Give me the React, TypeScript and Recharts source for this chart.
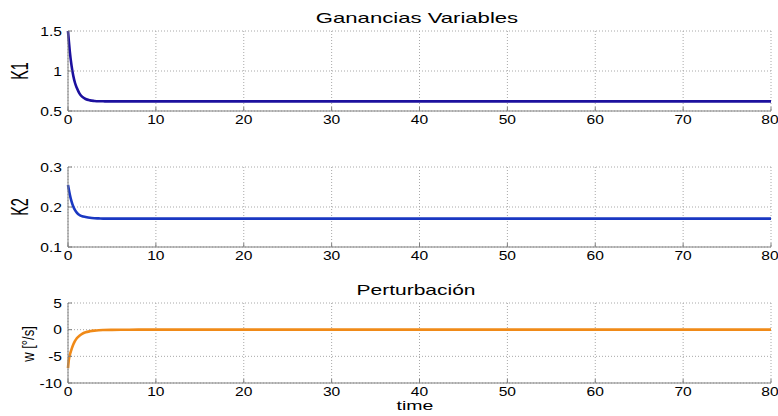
import React from "react";
import { LineChart, Line, XAxis, YAxis, CartesianGrid } from "recharts";

// simulation time (s) and the three signals
const time = [0, 0.1, 0.2, 0.4, 0.6, 0.8, 1, 1.3, 1.6, 2, 2.5, 3, 3.5, 4, 5, 6, 8, 10, 20, 40, 60, 80];
const k1 = [1.5, 1.37, 1.25, 1.07, 0.94, 0.85, 0.79, 0.72, 0.68, 0.65, 0.633, 0.626, 0.622, 0.621, 0.62, 0.62, 0.62, 0.62, 0.62, 0.62, 0.62, 0.62];
const k2 = [0.255, 0.243, 0.232, 0.214, 0.201, 0.192, 0.186, 0.18, 0.177, 0.175, 0.173, 0.172, 0.1715, 0.171, 0.171, 0.171, 0.171, 0.171, 0.171, 0.171, 0.171, 0.171];
const w = [-7.2, -5.6, -4.8, -3.7, -2.8, -2.1, -1.6, -1.15, -0.8, -0.5, -0.3, -0.18, -0.11, -0.07, -0.03, -0.01, 0, 0, 0, 0, 0, 0];

const xTicks = [0, 10, 20, 30, 40, 50, 60, 70, 80];
const k1Ticks = [0.5, 1, 1.5];
const k2Ticks = [0.1, 0.2, 0.3];
const wTicks = [-10, -5, 0, 5];

const rows = time.map((t, i) => ({ t, k1: k1[i], k2: k2[i], w: w[i] }));

const FONT = "'Liberation Sans', Arial, sans-serif";
const FRAME = "#808080";

// the original figure is stretched sideways, so the text is too
function SText({ x, y, sx = 1.3, size = 12, anchor = "middle", children }: any) {
  return (
    <text
      transform={`translate(${x},${y}) scale(${sx},1)`}
      textAnchor={anchor}
      fontSize={size}
      fontFamily={FONT}
      fill="#000"
    >
      {children}
    </text>
  );
}

const XTick = (p: any) => <SText x={p.x} y={p.y + 12.5}>{p.payload.value}</SText>;
const YTick = (p: any) => (
  <SText x={p.x - 6} y={p.y + 4.5} anchor="end">
    {p.payload.value}
  </SText>
);
const NoTick = () => <g />;

function Panel({ top, height, margin, dataKey, color, domain, ticks }: any) {
  return (
    <div style={{ position: "absolute", left: 0, top, width: 778, height }}>
      <LineChart width={778} height={height} data={rows} margin={margin}>
        <CartesianGrid stroke="#a8a8a8" strokeDasharray="1 2" />
        <XAxis
          dataKey="t"
          type="number"
          domain={[0, 80]}
          ticks={xTicks}
          height={18}
          stroke={FRAME}
          tickSize={-4}
          tickMargin={4}
          tick={XTick}
        />
        <XAxis
          xAxisId="top"
          dataKey="t"
          type="number"
          orientation="top"
          domain={[0, 80]}
          ticks={xTicks}
          height={0}
          stroke={FRAME}
          tickSize={-4}
          tick={NoTick}
        />
        <YAxis
          type="number"
          domain={domain}
          ticks={ticks}
          width={68}
          stroke={FRAME}
          tickSize={-4}
          tickMargin={4}
          tick={YTick}
        />
        <YAxis
          yAxisId="right"
          type="number"
          orientation="right"
          domain={domain}
          ticks={ticks}
          width={0}
          stroke={FRAME}
          tickSize={-4}
          tick={NoTick}
        />
        <Line
          type="monotone"
          dataKey={dataKey}
          stroke={color}
          strokeWidth={2.6}
          dot={false}
          isAnimationActive={false}
        />
      </LineChart>
    </div>
  );
}

export default function App() {
  return (
    <div
      style={{
        position: "absolute",
        left: 0,
        top: 0,
        width: 778,
        height: 416,
        background: "#fff",
        overflow: "hidden",
      }}
    >
      <Panel
        top={0}
        height={130}
        margin={{ top: 31, right: 7, bottom: 1, left: 0 }}
        dataKey="k1"
        color="#1c109e"
        domain={[0.5, 1.5]}
        ticks={k1Ticks}
      />
      <Panel
        top={140}
        height={126}
        margin={{ top: 27, right: 7, bottom: 1, left: 0 }}
        dataKey="k2"
        color="#1a38c2"
        domain={[0.1, 0.3]}
        ticks={k2Ticks}
      />
      <Panel
        top={276}
        height={140}
        margin={{ top: 27, right: 7, bottom: 15, left: 0 }}
        dataKey="w"
        color="#f08a18"
        domain={[-10, 5]}
        ticks={wTicks}
      />
      <svg
        width={778}
        height={416}
        style={{ position: "absolute", left: 0, top: 0, pointerEvents: "none" }}
      >
        <SText x={417} y={22.5} size={14} sx={1.58}>Ganancias Variables</SText>
        <SText x={416} y={295} size={14} sx={1.5}>Perturbación</SText>
        <SText x={415} y={409.5} size={13} sx={1.5}>time</SText>
        <text
          transform="translate(20,71) rotate(-90) scale(1,1.6)"
          textAnchor="middle"
          dominantBaseline="central"
          fontSize={14.5}
          fontFamily={FONT}
        >
          K1
        </text>
        <text
          transform="translate(20,207) rotate(-90) scale(1,1.6)"
          textAnchor="middle"
          dominantBaseline="central"
          fontSize={14.5}
          fontFamily={FONT}
        >
          K2
        </text>
        <text
          transform="translate(27.5,344) rotate(-90) scale(1,1.3)"
          textAnchor="middle"
          dominantBaseline="central"
          fontSize={13}
          fontFamily={FONT}
        >
          w [°/s]
        </text>
      </svg>
    </div>
  );
}
